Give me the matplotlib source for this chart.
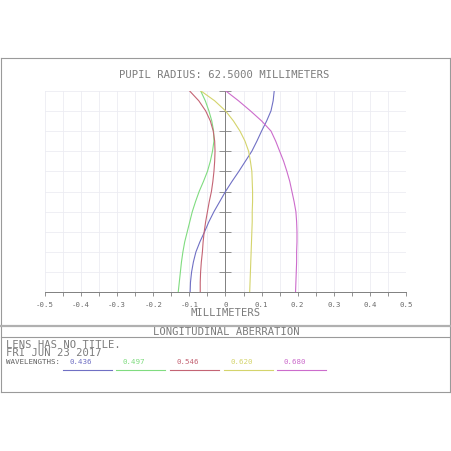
import matplotlib
matplotlib.use("Agg")
import matplotlib.pyplot as plt
from matplotlib.lines import Line2D
import numpy as np

# ---- data ----
pupil = [0.00, 0.05, 0.10, 0.15, 0.20, 0.25, 0.30, 0.35, 0.40, 0.45, 0.50,
         0.55, 0.60, 0.65, 0.70, 0.75, 0.80, 0.85, 0.90, 0.95, 1.00]
wl_436 = [-0.098, -0.097, -0.094, -0.089, -0.082, -0.071, -0.058, -0.046, -0.032, -0.016, 0.000,
          0.018, 0.037, 0.055, 0.073, 0.087, 0.100, 0.114, 0.126, 0.132, 0.135]
wl_497 = [-0.131, -0.128, -0.125, -0.122, -0.118, -0.113, -0.106, -0.099, -0.092, -0.083, -0.073,
          -0.061, -0.050, -0.042, -0.036, -0.032, -0.033, -0.038, -0.046, -0.056, -0.069]
wl_546 = [-0.070, -0.070, -0.069, -0.067, -0.064, -0.062, -0.059, -0.055, -0.050, -0.045, -0.039,
          -0.035, -0.032, -0.030, -0.029, -0.030, -0.034, -0.042, -0.055, -0.074, -0.100]
wl_620 = [0.067, 0.068, 0.069, 0.070, 0.071, 0.072, 0.073, 0.074, 0.074, 0.075, 0.075,
          0.074, 0.073, 0.069, 0.064, 0.054, 0.040, 0.022, 0.000, -0.030, -0.069]
wl_680 = [0.194, 0.195, 0.196, 0.197, 0.197, 0.198, 0.198, 0.197, 0.195, 0.190, 0.184,
          0.178, 0.170, 0.161, 0.150, 0.139, 0.126, 0.100, 0.069, 0.036, 0.000]
wavelength_labels = ["0.436", "0.497", "0.546", "0.620", "0.680"]
series = [wl_436, wl_497, wl_546, wl_620, wl_680]
colors = ["#7070c4", "#80dc80", "#c46474", "#d4d46c", "#cc6ccc"]
x_ticks = [-0.5, -0.4, -0.3, -0.2, -0.1, 0.0, 0.1, 0.2, 0.3, 0.4, 0.5]
x_tick_labels = ["-0.5", "-0.4", "-0.3", "-0.2", "-0.1", "0", "0.1", "0.2", "0.3", "0.4", "0.5"]

W = H = 452
fig = plt.figure(figsize=(4.52, 4.52), dpi=100)
fig.patch.set_facecolor("white")
mono = "DejaVu Sans Mono"
tcol = "#7c7c7c"
fcol = "#9a9a9a"

def fx(px):
    return px / W

def fy(py):
    return 1 - py / H

# plot axes
ax = fig.add_axes([fx(45), fy(293.3), fx(406) - fx(45), fy(91.7) - fy(293.3)])
ax.set_xlim(-0.5, 0.5)
ax.set_ylim(0, 1)
for s, c in zip(series, colors):
    ax.plot(s, pupil, color=c, lw=0.8, zorder=3)

ax.set_xticks(x_ticks)
ax.set_xticklabels(x_tick_labels, fontsize=5.3, family=mono, color="#6a6a6a")
ax.set_xticks(np.arange(-0.5, 0.501, 0.05), minor=True)
ax.set_yticks(np.arange(0, 1.001, 0.1))
ax.tick_params(axis="x", which="both", direction="out", length=3, width=0.6,
               color="#808080", pad=3)
ax.tick_params(axis="y", which="both", direction="inout", length=9, width=0.6,
               color="#808080", labelleft=False)
ax.grid(True, which="both", axis="x", color="#ececf2", lw=0.6, zorder=0)
ax.grid(True, which="major", axis="y", color="#ececf2", lw=0.6, zorder=0)
for sp in ["top", "right"]:
    ax.spines[sp].set_visible(False)
ax.spines["left"].set_position(("data", 0))
ax.spines["left"].set_color("#808080")
ax.spines["left"].set_linewidth(0.7)
ax.spines["bottom"].set_color("#808080")
ax.spines["bottom"].set_linewidth(0.7)
ax.set_axisbelow(True)

# frame and separators
def hline(y, x0=1, x1=450, lw=0.8, c=fcol):
    fig.add_artist(Line2D([fx(x0), fx(x1)], [fy(y), fy(y)], color=c, lw=lw,
                          transform=fig.transFigure))

def vline(x, y0, y1, lw=0.8, c=fcol):
    fig.add_artist(Line2D([fx(x), fx(x)], [fy(y0), fy(y1)], color=c, lw=lw,
                          transform=fig.transFigure))

hline(58.5)
hline(392.5)
vline(1, 58.5, 392.5)
vline(450, 58.5, 392.5)
hline(326.8, lw=1.6, c="#b0b0b0")
hline(337.5)

# texts
fig.text(fx(224), fy(75), "PUPIL RADIUS: 62.5000 MILLIMETERS", ha="center", va="center",
         fontsize=7.6, family=mono, color=tcol)
fig.text(fx(226), fy(313), "MILLIMETERS", ha="center", va="center",
         fontsize=7.6, family=mono, color=tcol)
fig.text(fx(226), fy(332.5), "LONGITUDINAL ABERRATION", ha="center", va="center",
         fontsize=7.6, family=mono, color=tcol)
fig.text(fx(6), fy(345), "LENS HAS NO TITLE.", ha="left", va="center",
         fontsize=7.6, family=mono, color=tcol)
fig.text(fx(6), fy(353.5), "FRI JUN 23 2017", ha="left", va="center",
         fontsize=7.6, family=mono, color=tcol)
fig.text(fx(6), fy(362), "WAVELENGTHS:", ha="left", va="center",
         fontsize=5.4, family=mono, color="#606060")

leg_x0 = [63, 116, 170, 224, 277]
leg_len = 49
for x0, lab, c in zip(leg_x0, wavelength_labels, colors):
    fig.text(fx(x0 + 7), fy(362), lab, ha="left", va="center",
             fontsize=5.4, family=mono, color=c)
    fig.add_artist(Line2D([fx(x0), fx(x0 + leg_len)], [fy(370.5), fy(370.5)],
                          color=c, lw=0.8, transform=fig.transFigure))

fig.savefig("out.png", dpi=100, facecolor="white")
